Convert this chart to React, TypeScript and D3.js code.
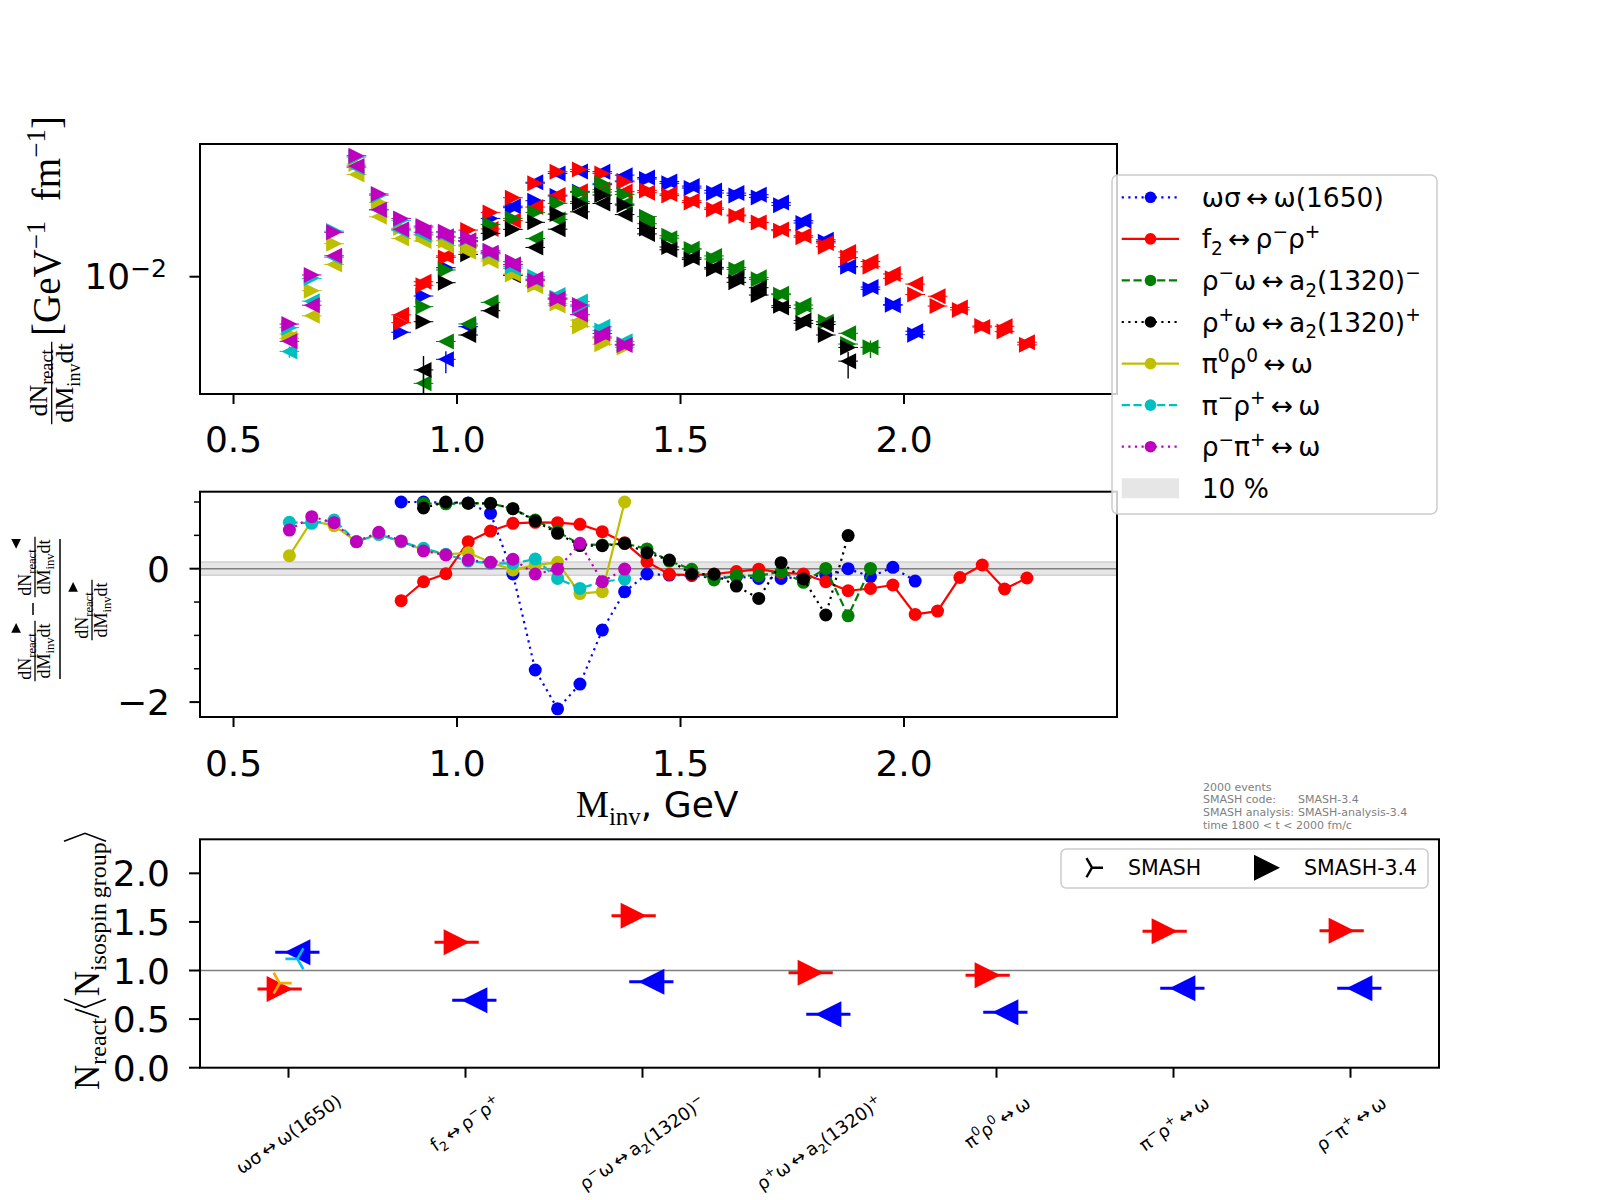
import React, { useEffect, useRef } from 'react';
import * as d3 from 'd3';

type Part = [string, 'n' | 'sub' | 'sup'];

const SANS = "'DejaVu Sans', sans-serif";
const SERIF = "'Liberation Serif', 'DejaVu Serif', serif";

// ---------------- invariant-mass bin centres (GeV) ----------------
const massPiRho = [0.625, 0.675, 0.725, 0.775, 0.825, 0.875, 0.925, 0.975, 1.025, 1.075, 1.125, 1.175, 1.225, 1.275, 1.325, 1.375];
const massF2 = [0.875, 0.925, 0.975, 1.025, 1.075, 1.125, 1.175, 1.225, 1.275, 1.325, 1.375, 1.425, 1.475, 1.525, 1.575, 1.625, 1.675, 1.725, 1.775, 1.825, 1.875, 1.925, 1.975, 2.025, 2.075, 2.125, 2.175, 2.225, 2.275];
const massOmega1650 = [0.875, 0.925, 0.975, 1.025, 1.075, 1.125, 1.175, 1.225, 1.275, 1.325, 1.375, 1.425, 1.475, 1.525, 1.575, 1.625, 1.675, 1.725, 1.775, 1.825, 1.875, 1.925, 1.975, 2.025];
const massA2Minus = [0.925, 0.975, 1.025, 1.075, 1.125, 1.175, 1.225, 1.275, 1.325, 1.375, 1.425, 1.475, 1.525, 1.575, 1.625, 1.675, 1.725, 1.775, 1.825, 1.875, 1.925];
const massA2Plus = [0.925, 0.975, 1.025, 1.075, 1.125, 1.175, 1.225, 1.275, 1.325, 1.375, 1.425, 1.475, 1.525, 1.575, 1.625, 1.675, 1.725, 1.775, 1.825, 1.875];

// ---------------- dN/dMinv dt, forward (▶) and backward (◀) ----------------
const fwdOmegaSigma = [6.2e-4, 3.8e-3, 0.0157, 0.0577, 0.185, 0.316, 0.449, 0.567, 0.705, 1.0, 1.2, 1.33, 1.07, 0.847, 0.659, 0.586, 0.53, 0.356, 0.147, 0.0577, 0.0165, 0.00531, 0.00246, 0.00055];
const bwdOmegaSigma = [null, null, 1.6e-4, 8.2e-4, 0.0315, 0.341, 1.131, 1.758, 1.925, 1.92, 1.614, 1.436, 1.172, 0.932, 0.751, 0.656, 0.607, 0.408, 0.165, 0.0632, 0.0165, 0.00595, 0.00241, 0.000652];

const fwdF2 = [1.0e-3, 6.5e-3, 0.0263, 0.103, 0.25, 0.52, 1.07, 1.92, 2.15, 1.76, 1.16, 0.75, 0.58, 0.41, 0.29, 0.21, 0.15, 0.1, 0.072, 0.045, 0.026, 0.0165, 0.0092, 0.0041, 0.0023, 0.0019, 0.00085, 0.00064, 0.00033];
const bwdF2 = [1.48e-3, 7.77e-3, 0.0283, 0.0613, 0.109, 0.166, 0.326, 0.595, 0.72, 0.783, 0.708, 0.671, 0.629, 0.449, 0.313, 0.219, 0.151, 0.106, 0.0778, 0.0538, 0.0346, 0.0214, 0.01145, 0.00691, 0.00376, 0.00215, 0.000803, 0.000835, 0.000376];

const fwdA2Minus = [2.23e-3, 0.014, 0.0488, 0.137, 0.185, 0.25, 0.393, 0.681, 1.07, 0.616, 0.202, 0.0778, 0.0399, 0.0242, 0.0144, 0.00875, 0.00406, 0.00201, 0.00105, 0.000344, 0.000291];
const bwdA2Minus = [4.8e-5, 3.9e-4, 9.4e-4, 2.77e-3, 0.0185, 0.0675, 0.175, 0.432, 0.69, 0.382, 0.142, 0.0689, 0.0403, 0.0283, 0.0159, 0.00967, 0.00424, 0.00242, 0.001045, 0.000587, 0.00029];

const fwdA2Plus = [1.05e-3, 7.4e-3, 0.0306, 0.0875, 0.107, 0.152, 0.23, 0.393, 0.596, 0.361, 0.112, 0.0442, 0.0238, 0.0147, 0.00753, 0.00399, 0.00234, 0.00097, 0.00054, 0.00029];
const bwdA2Plus = [9.4e-5, null, 5.4e-4, 1.82e-3, 0.0107, 0.0433, 0.108, 0.257, 0.39, 0.224, 0.0851, 0.0385, 0.0257, 0.0159, 0.00949, 0.00577, 0.00213, 0.00112, 0.000915, 0.000146];

const fwdPi0Rho0 = [5.67e-4, 4.96e-3, 0.0521, 2.81, 0.413, 0.114, 0.0832, 0.0606, 0.0456, 0.0242, 0.0112, 0.00659, 0.00263, 0.00083, 0.00034, 0.00029];
const bwdPi0Rho0 = [4.56e-4, 1.41e-3, 0.0185, 1.67, 0.2, 0.0678, 0.0599, 0.0476, 0.0347, 0.0219, 0.0114, 0.00623, 0.00238, 0.00114, 0.000457, null];

const fwdPimRhop = [7.8e-4, 9.2e-3, 0.098, 3.99, 0.586, 0.168, 0.116, 0.0905, 0.0681, 0.0349, 0.0165, 0.01, 0.00349, 0.00223, 0.00068, 0.00034];
const bwdPimRhop = [2.38e-4, 2.94e-3, 0.0265, 2.37, 0.284, 0.1, 0.0806, 0.071, 0.0603, 0.0321, 0.0152, 0.00855, 0.004, 0.00289, 0.000813, 0.000393];

const fwdRhomPip = [9.35e-4, 0.0109, 0.092, 4.27, 0.627, 0.185, 0.126, 0.095, 0.0705, 0.0367, 0.0212, 0.0082, 0.00327, 0.00242, 0.000488, 0.000327];
const bwdRhomPip = [3.93e-4, 0.0024, 0.0285, 2.54, 0.285, 0.108, 0.0926, 0.0755, 0.0613, 0.0332, 0.0182, 0.00886, 0.00329, 0.0015, 0.000583, 0.000329];

// a few visible vertical error bars (absolute errors)
const topYErrors = [
  { series: 3, dir: 'bwd', mass: 0.925, err: 9.5e-5 },
  { series: 0, dir: 'bwd', mass: 0.975, err: 8e-5 },
  { series: 3, dir: 'bwd', mass: 1.875, err: 8.5e-5 },
  { series: 5, dir: 'bwd', mass: 0.625, err: 6.5e-5 },
  { series: 2, dir: 'fwd', mass: 1.925, err: 1.2e-4 },
  { series: 2, dir: 'bwd', mass: 0.925, err: 3e-5 },
];

// ---------------- labels ----------------
const AR = '\u2009\u2194\u2009';
const reactionLabels: Part[][] = [
  [['ωσ' + AR + 'ω(1650)', 'n']],
  [['f', 'n'], ['2', 'sub'], [AR + 'ρ', 'n'], ['−', 'sup'], ['ρ', 'n'], ['+', 'sup']],
  [['ρ', 'n'], ['−', 'sup'], ['ω' + AR + 'a', 'n'], ['2', 'sub'], ['(1320)', 'n'], ['−', 'sup']],
  [['ρ', 'n'], ['+', 'sup'], ['ω' + AR + 'a', 'n'], ['2', 'sub'], ['(1320)', 'n'], ['+', 'sup']],
  [['π', 'n'], ['0', 'sup'], ['ρ', 'n'], ['0', 'sup'], [AR + 'ω', 'n']],
  [['π', 'n'], ['−', 'sup'], ['ρ', 'n'], ['+', 'sup'], [AR + 'ω', 'n']],
  [['ρ', 'n'], ['−', 'sup'], ['π', 'n'], ['+', 'sup'], [AR + 'ω', 'n']],
];

// ---------------- ratio to isospin-group average ----------------
const ratioFwd = [0.81, 1.29, 1.564, 0.977, 0.95, 1.403, 1.41];
const ratioBwd = [1.187, 0.693, 0.885, 0.549, 0.57, 0.817, 0.817];
const ratioRefFwd = [0.87, null, null, null, null, null, null];
const ratioRefBwd = [1.12, null, null, null, null, null, null];
const ratioXErr = 0.125;

const massTicks = [0.5, 1.0, 1.5, 2.0];
const ratioTicks = [0, 0.5, 1.0, 1.5, 2.0];
const infoLines: [string, string][] = [
  ['2000 events', ''],
  ['SMASH code:', 'SMASH-3.4'],
  ['SMASH analysis:', 'SMASH-analysis-3.4'],
  ['time 1800 < t < 2000 fm/c', ''],
];

const series = [
  { color: '#0000ff', dash: 'dot', mass: massOmega1650, fwd: fwdOmegaSigma, bwd: bwdOmegaSigma },
  { color: '#ff0000', dash: 'solid', mass: massF2, fwd: fwdF2, bwd: bwdF2 },
  { color: '#008000', dash: 'dash', mass: massA2Minus, fwd: fwdA2Minus, bwd: bwdA2Minus },
  { color: '#000000', dash: 'dot', mass: massA2Plus, fwd: fwdA2Plus, bwd: bwdA2Plus },
  { color: '#bfbf00', dash: 'solid', mass: massPiRho, fwd: fwdPi0Rho0, bwd: bwdPi0Rho0 },
  { color: '#00bfbf', dash: 'dash', mass: massPiRho, fwd: fwdPimRhop, bwd: bwdPimRhop },
  { color: '#bf00bf', dash: 'dot', mass: massPiRho, fwd: fwdRhomPip, bwd: bwdRhomPip },
];

// ---------------- layout ----------------
const TOP = { l: 200, r: 1117, t: 144, b: 394 };
const MID = { l: 200, r: 1117, t: 491.7, b: 717 };
const BOT = { l: 200, r: 1439, t: 839.3, b: 1067.7 };

const DASH: Record<string, string | null> = { dot: '2.2,4.4', dash: '8.2,3.6', solid: null };

function tri(cx: number, cy: number, h: number, dir: string) {
  return dir === 'right'
    ? `M${cx + h},${cy}L${cx - h},${cy - h}L${cx - h},${cy + h}Z`
    : `M${cx - h},${cy}L${cx + h},${cy - h}L${cx + h},${cy + h}Z`;
}
function triStar(cx: number, cy: number, r: number, dir: string) {
  const angs = dir === 'right' ? [0, 120, 240] : [180, 60, 300];
  return angs
    .map((d) => {
      const a = (d * Math.PI) / 180;
      return `M${cx},${cy}L${cx + r * Math.cos(a)},${cy - r * Math.sin(a)}`;
    })
    .join('');
}

function appendRich(text: any, parts: Part[], size: number) {
  let cur = 0;
  parts.forEach(([t, k]) => {
    const target = k === 'sup' ? -0.4 * size : k === 'sub' ? 0.25 * size : 0;
    const ts = text.append('tspan').attr('font-size', k === 'n' ? size : size * 0.7).text(t);
    if (target - cur !== 0) ts.attr('dy', target - cur);
    cur = target;
  });
}

function render(node: SVGSVGElement) {
  const svg: any = d3.select(node);
  svg.selectAll('*').remove();
  svg.append('rect').attr('x', 0).attr('y', 0).attr('width', 1600).attr('height', 1200).attr('fill', '#ffffff');

  const measure = (text: string, size: number, family: string) => {
    const t = svg.append('text').attr('x', -2000).attr('y', -2000).attr('font-size', size).attr('font-family', family).text(text);
    const w = (t.node() as SVGTextElement).getComputedTextLength();
    t.remove();
    return w;
  };

  const defs = svg.append('defs');
  [['cTop', TOP], ['cMid', MID], ['cBot', BOT]].forEach(([id, P]: any) => {
    defs.append('clipPath').attr('id', id).append('rect').attr('x', P.l).attr('y', P.t).attr('width', P.r - P.l).attr('height', P.b - P.t);
  });

  const x = d3.scaleLinear().domain([0.425, 2.4765]).range([TOP.l, TOP.r]);
  const yTop = d3.scaleLog().domain([Math.pow(10, -4.55), Math.pow(10, 0.8848)]).range([TOP.b, TOP.t]);
  const yMid = d3.scaleLinear().domain([-2.2234, 1.1544]).range([MID.b, MID.t]);
  const xBot = d3.scaleLinear().domain([-0.5, 6.5]).range([BOT.l, BOT.r]);
  const yBot = d3.scaleLinear().domain([0, 2.35]).range([BOT.b, BOT.t]);

  // ================= TOP PANEL =================
  const gTop = svg.append('g').attr('clip-path', 'url(#cTop)');
  series.forEach((s, si) => {
    (['fwd', 'bwd'] as const).forEach((k) => {
      const vals = (s as any)[k] as (number | null)[];
      const dir = k === 'fwd' ? 'right' : 'left';
      const pts = s.mass.map((m, i) => ({ m, v: vals[i] })).filter((p) => p.v != null && (p.v as number) > 0) as { m: number; v: number }[];
      pts.forEach((p) => {
        gTop.append('line').attr('x1', x(p.m - 0.022)).attr('x2', x(p.m + 0.022)).attr('y1', yTop(p.v)).attr('y2', yTop(p.v))
          .attr('stroke', s.color).attr('stroke-width', 1);
      });
      topYErrors.filter((e) => e.series === si && e.dir === k).forEach((e) => {
        const i = s.mass.indexOf(e.mass);
        const v = vals[i] as number;
        if (v == null) return;
        gTop.append('line').attr('x1', x(e.mass)).attr('x2', x(e.mass))
          .attr('y1', yTop(v + e.err)).attr('y2', v - e.err > 1e-7 ? yTop(v - e.err) : TOP.b + 5)
          .attr('stroke', s.color).attr('stroke-width', 1.4);
      });
      pts.forEach((p) => {
        gTop.append('path').attr('d', tri(x(p.m), yTop(p.v), 8, dir)).attr('fill', s.color);
      });
    });
  });

  // ================= MIDDLE PANEL =================
  const gMid = svg.append('g').attr('clip-path', 'url(#cMid)');
  gMid.append('rect').attr('x', MID.l).attr('width', MID.r - MID.l).attr('y', yMid(0.1)).attr('height', yMid(-0.1) - yMid(0.1)).attr('fill', '#e6e6e6');
  [0.1, -0.1].forEach((v) => gMid.append('line').attr('x1', MID.l).attr('x2', MID.r).attr('y1', yMid(v)).attr('y2', yMid(v)).attr('stroke', '#d0d0d0').attr('stroke-width', 1.5));
  gMid.append('line').attr('x1', MID.l).attr('x2', MID.r).attr('y1', yMid(0)).attr('y2', yMid(0)).attr('stroke', '#808080').attr('stroke-width', 1.4);

  series.forEach((s) => {
    const pts = s.mass.map((m, i) => {
      const f = s.fwd[i] as number;
      const b = (s.bwd[i] as number | null) ?? 0;
      return [m, (f - b) / f] as [number, number];
    });
    const line = d3.line<[number, number]>().x((d) => x(d[0])).y((d) => yMid(d[1]));
    const path = gMid.append('path').attr('d', line(pts)).attr('fill', 'none').attr('stroke', s.color).attr('stroke-width', 2.2).attr('stroke-linejoin', 'round');
    if (DASH[s.dash]) path.attr('stroke-dasharray', DASH[s.dash]);
    pts.forEach((p) => gMid.append('circle').attr('cx', x(p[0])).attr('cy', yMid(p[1])).attr('r', 6.5).attr('fill', s.color));
  });

  // ================= BOTTOM PANEL =================
  const gBot = svg.append('g').attr('clip-path', 'url(#cBot)');
  gBot.append('line').attr('x1', BOT.l).attr('x2', BOT.r).attr('y1', yBot(1)).attr('y2', yBot(1)).attr('stroke', '#808080').attr('stroke-width', 1.5);
  const off = 0.05;
  ratioFwd.forEach((v, i) => {
    gBot.append('line').attr('x1', xBot(i - off - ratioXErr)).attr('x2', xBot(i - off + ratioXErr)).attr('y1', yBot(v)).attr('y2', yBot(v)).attr('stroke', '#ff0000').attr('stroke-width', 3);
    gBot.append('path').attr('d', tri(xBot(i - off), yBot(v), 13, 'right')).attr('fill', '#ff0000');
  });
  ratioBwd.forEach((v, i) => {
    gBot.append('line').attr('x1', xBot(i + off - ratioXErr)).attr('x2', xBot(i + off + ratioXErr)).attr('y1', yBot(v)).attr('y2', yBot(v)).attr('stroke', '#0000ff').attr('stroke-width', 3);
    gBot.append('path').attr('d', tri(xBot(i + off), yBot(v), 13, 'left')).attr('fill', '#0000ff');
  });
  ratioRefFwd.forEach((v, i) => {
    if (v == null) return;
    gBot.append('path').attr('d', triStar(xBot(i - off), yBot(v), 12, 'right')).attr('stroke', '#ffa500').attr('stroke-width', 2.6).attr('fill', 'none');
  });
  ratioRefBwd.forEach((v, i) => {
    if (v == null) return;
    gBot.append('path').attr('d', triStar(xBot(i + off), yBot(v), 12, 'left')).attr('stroke', '#00bfff').attr('stroke-width', 2.6).attr('fill', 'none');
  });

  // ================= frames & ticks =================
  [TOP, MID, BOT].forEach((P) => {
    svg.append('rect').attr('x', P.l).attr('y', P.t).attr('width', P.r - P.l).attr('height', P.b - P.t).attr('fill', 'none').attr('stroke', '#000').attr('stroke-width', 2);
  });
  const tickLine = (x1: number, y1: number, x2: number, y2: number, w = 2) =>
    svg.append('line').attr('x1', x1).attr('y1', y1).attr('x2', x2).attr('y2', y2).attr('stroke', '#000').attr('stroke-width', w);
  const label = (tx: number, ty: number, txt: string, anchor: string, size = 36) =>
    svg.append('text').attr('x', tx).attr('y', ty).attr('text-anchor', anchor).attr('font-size', size).attr('font-family', SANS).attr('fill', '#000').text(txt);

  const fmt1 = d3.format('.1f');
  [[TOP, 452], [MID, 776]].forEach(([P, base]: any) => {
    massTicks.forEach((t) => {
      tickLine(x(t), P.b, x(t), P.b + 10);
      label(x(t), base, fmt1(t), 'middle');
    });
  });
  // top y: single decade tick
  tickLine(TOP.l - 10.5, yTop(0.01), TOP.l, yTop(0.01));
  const t10 = svg.append('text').attr('x', 167).attr('y', yTop(0.01) + 12.5).attr('text-anchor', 'end').attr('font-family', SANS).attr('font-size', 36);
  t10.append('tspan').text('10');
  t10.append('tspan').attr('font-size', 25).attr('dy', -12).text('−2');

  // middle y
  [0, -2].forEach((t) => {
    tickLine(MID.l - 10.5, yMid(t), MID.l, yMid(t));
    label(170, yMid(t) + 13, t === 0 ? '0' : '−2', 'end');
  });
  [1, 0.5, -0.5, -1, -1.5].forEach((t) => tickLine(MID.l - 6, yMid(t), MID.l, yMid(t), 1.5));

  // bottom y
  ratioTicks.forEach((t) => {
    tickLine(BOT.l - 11, yBot(t), BOT.l, yBot(t));
    label(170, yBot(t) + 13, fmt1(t), 'end');
  });
  // bottom x categories
  reactionLabels.forEach((parts, i) => {
    const cx = xBot(i);
    tickLine(cx, BOT.b, cx, BOT.b + 10);
    const g = svg.append('g');
    const txt = g.append('text').attr('x', 0).attr('y', 0).attr('text-anchor', 'middle').attr('font-family', SANS).attr('font-size', 18);
    appendRich(txt, parts, 18);
    const bb = (txt.node() as SVGTextElement).getBBox();
    txt.attr('y', -(bb.y + bb.height / 2));
    const th = (35 * Math.PI) / 180;
    const hb = bb.width * Math.sin(th) + bb.height * Math.cos(th);
    g.attr('transform', `translate(${cx},${1090 + hb / 2}) rotate(-35)`);
  });

  // ================= axis labels =================
  const xl = svg.append('text').attr('x', 576).attr('y', 817).attr('fill', '#000');
  xl.append('tspan').attr('font-family', SERIF).attr('font-size', 37).text('M');
  xl.append('tspan').attr('font-family', SERIF).attr('font-size', 25).attr('dy', 8).text('inv');
  xl.append('tspan').attr('font-family', SANS).attr('font-size', 36).attr('dy', -8).text(', GeV');

  const rotG = (sx: number, sy: number) => svg.append('g').attr('transform', `translate(${sx},${sy}) rotate(-90)`);

  const fracBlock = (barX: number, cy: number, fs: number, triDir: string | null) => {
    const g = rotG(barX, cy);
    const wdN = measure('dN', fs, SERIF);
    const wre = measure('react', fs * 0.7, SERIF);
    const triW = triDir ? fs * 0.62 : 0;
    const wNum = wdN + wre + triW;
    const wdM = measure('dM', fs, SERIF);
    const winv = measure('inv', fs * 0.7, SERIF);
    const wdt = measure('dt', fs, SERIF);
    const wDen = wdM + winv + wdt;
    const wBar = Math.max(wNum, wDen) + 3;
    const vN = -0.2 * fs;
    const u0 = -wNum / 2;
    g.append('text').attr('x', u0).attr('y', vN).attr('font-family', SERIF).attr('font-size', fs).text('dN');
    g.append('text').attr('x', u0 + wdN).attr('y', vN + 0.25 * fs).attr('font-family', SERIF).attr('font-size', fs * 0.7).text('react');
    if (triDir) {
      const h = fs * 0.27;
      g.append('path').attr('d', tri(u0 + wdN + wre + triW / 2, vN - 0.85 * fs, h, triDir)).attr('fill', '#000');
    }
    g.append('line').attr('x1', -wBar / 2).attr('x2', wBar / 2).attr('y1', 0).attr('y2', 0).attr('stroke', '#000').attr('stroke-width', 1.3);
    const vD = 0.82 * fs;
    const d0 = -wDen / 2;
    g.append('text').attr('x', d0).attr('y', vD).attr('font-family', SERIF).attr('font-size', fs).text('dM');
    g.append('text').attr('x', d0 + wdM).attr('y', vD + 0.25 * fs).attr('font-family', SERIF).attr('font-size', fs * 0.7).text('inv');
    g.append('text').attr('x', d0 + wdM + winv).attr('y', vD).attr('font-family', SERIF).attr('font-size', fs).text('dt');
  };

  // top y label
  fracBlock(51.7, 383, 26, null);
  const yl1 = rotG(60, 336).append('text').attr('x', 0).attr('y', 0).attr('font-family', SERIF).attr('font-size', 39);
  yl1.append('tspan').text('[GeV');
  yl1.append('tspan').attr('font-size', 27).attr('dy', -15).text('−1');
  yl1.append('tspan').attr('dy', 15).text('\u2002fm');
  yl1.append('tspan').attr('font-size', 27).attr('dy', -15).text('−1');
  yl1.append('tspan').attr('dy', 15).text(']');

  // middle y label
  fracBlock(35, 651, 18, 'right');
  fracBlock(35, 567, 18, 'left');
  svg.append('line').attr('x1', 33).attr('x2', 33).attr('y1', 603).attr('y2', 615).attr('stroke', '#000').attr('stroke-width', 1.5);
  svg.append('line').attr('x1', 60).attr('x2', 60).attr('y1', 539).attr('y2', 679).attr('stroke', '#000').attr('stroke-width', 1.5);
  fracBlock(92, 610, 18, 'right');

  // bottom y label
  {
    const g = rotG(99, 1090);
    let u = 0;
    const put = (t: string, size: number, dv: number) => {
      g.append('text').attr('x', u).attr('y', dv).attr('font-family', SERIF).attr('font-size', size).text(t);
      u += measure(t, size, SERIF);
    };
    const bracket = (open: boolean) => {
      const w = 9;
      const d = open ? `M${u + w},-35L${u + 1},-14L${u + w},7` : `M${u + 1},-35L${u + w},-14L${u + 1},7`;
      g.append('path').attr('d', d).attr('fill', 'none').attr('stroke', '#000').attr('stroke-width', 1.6);
      u += w + 3;
    };
    put('N', 35, 0);
    put('react', 24, 7);
    put('/', 35, 0);
    bracket(true);
    put('N', 35, 0);
    put('isospin\u2009group', 24, 7);
    bracket(false);
  }

  // ================= info text =================
  infoLines.forEach(([a, b], i) => {
    const yy = 790.5 + i * 12.8;
    svg.append('text').attr('x', 1203).attr('y', yy).attr('font-family', SANS).attr('font-size', 11).attr('fill', '#808080').text(a);
    if (b) svg.append('text').attr('x', 1298).attr('y', yy).attr('font-family', SANS).attr('font-size', 11).attr('fill', '#808080').text(b);
  });

  // ================= bottom legend =================
  svg.append('rect').attr('x', 1061).attr('y', 849).attr('width', 367).attr('height', 39).attr('rx', 5)
    .attr('fill', '#ffffff').attr('fill-opacity', 0.8).attr('stroke', '#cccccc').attr('stroke-width', 1.5);
  svg.append('path').attr('d', triStar(1092, 867.7, 11, 'right')).attr('stroke', '#000').attr('stroke-width', 2.4).attr('fill', 'none');
  label(1128, 875, 'SMASH', 'start', 20.5);
  svg.append('path').attr('d', tri(1267, 867.7, 13, 'right')).attr('fill', '#000');
  label(1304, 875, 'SMASH-3.4', 'start', 20.5);

  // ================= top legend =================
  svg.append('rect').attr('x', 1112).attr('y', 175).attr('width', 325).attr('height', 339).attr('rx', 6)
    .attr('fill', '#ffffff').attr('fill-opacity', 0.8).attr('stroke', '#cccccc').attr('stroke-width', 1.5);
  const rowY = (i: number) => 197.3 + i * 41.57;
  series.forEach((s, i) => {
    const yy = rowY(i);
    const ln = svg.append('line').attr('x1', 1121.7).attr('x2', 1179).attr('y1', yy).attr('y2', yy).attr('stroke', s.color).attr('stroke-width', 2.2);
    if (DASH[s.dash]) ln.attr('stroke-dasharray', DASH[s.dash]);
    svg.append('circle').attr('cx', 1150.5).attr('cy', yy).attr('r', 5.8).attr('fill', s.color);
    const t = svg.append('text').attr('x', 1201.7).attr('y', yy + 9.5).attr('font-family', SANS).attr('font-size', 26.5).attr('fill', '#000');
    appendRich(t, reactionLabels[i], 26.5);
  });
  svg.append('rect').attr('x', 1121.7).attr('y', rowY(7) - 10).attr('width', 57.3).attr('height', 20).attr('fill', '#e6e6e6');
  label(1201.7, rowY(7) + 9.5, '10 %', 'start', 26.5);
}

export default function App() {
  const ref = useRef<SVGSVGElement>(null);
  useEffect(() => {
    if (ref.current) render(ref.current);
  }, []);
  return (
    <svg ref={ref} width={1600} height={1200} style={{ position: 'absolute', left: 0, top: 0, background: '#ffffff' }} />
  );
}
